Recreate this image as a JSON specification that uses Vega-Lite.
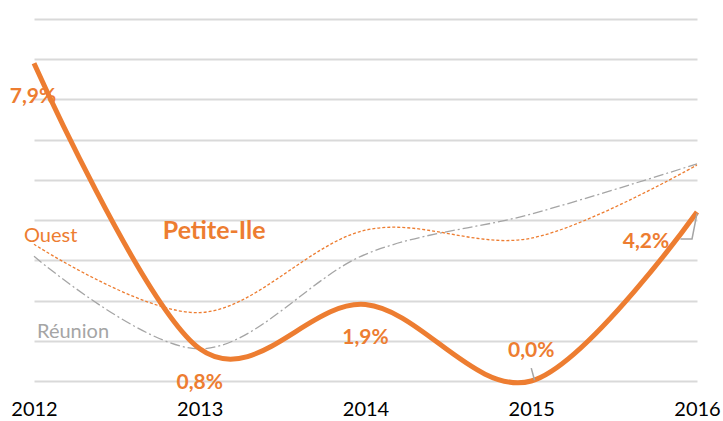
{
  "$schema": "https://vega.github.io/schema/vega-lite/v6.json",
  "width": 663,
  "height": 362,
  "autosize": {"type": "none"},
  "padding": {"left": 34, "top": 19, "right": 26, "bottom": 40},
  "background": "white",
  "config": {"view": {"stroke": null}, "font": "Lato"},
  "datasets": {
    "series": [
      {"series": "Petite-Ile", "year": 2012, "value": 7.9, "label": "7,9%"},
      {"series": "Petite-Ile", "year": 2013, "value": 0.8, "label": "0,8%"},
      {"series": "Petite-Ile", "year": 2014, "value": 1.9, "label": "1,9%"},
      {"series": "Petite-Ile", "year": 2015, "value": 0.0, "label": "0,0%"},
      {"series": "Petite-Ile", "year": 2016, "value": 4.2, "label": "4,2%"},
      {"series": "Ouest", "year": 2012, "value": 3.4, "label": ""},
      {"series": "Ouest", "year": 2013, "value": 1.7, "label": ""},
      {"series": "Ouest", "year": 2014, "value": 3.75, "label": ""},
      {"series": "Ouest", "year": 2015, "value": 3.55, "label": ""},
      {"series": "Ouest", "year": 2016, "value": 5.37, "label": ""},
      {"series": "Réunion", "year": 2012, "value": 3.1, "label": ""},
      {"series": "Réunion", "year": 2013, "value": 0.8, "label": ""},
      {"series": "Réunion", "year": 2014, "value": 3.15, "label": ""},
      {"series": "Réunion", "year": 2015, "value": 4.15, "label": ""},
      {"series": "Réunion", "year": 2016, "value": 5.4, "label": ""}
    ],
    "leaders": [
      {"group": "a", "order": 1, "year": 2015.0, "value": 0.32},
      {"group": "a", "order": 2, "year": 2015.02, "value": 0.02},
      {"group": "b", "order": 1, "year": 2015.9, "value": 3.53},
      {"group": "b", "order": 2, "year": 2015.97, "value": 3.53},
      {"group": "b", "order": 3, "year": 2016.0, "value": 4.17}
    ]
  },
  "data": {"name": "series"},
  "encoding": {
    "x": {
      "field": "year", "type": "quantitative",
      "scale": {"domain": [2012, 2016], "nice": false, "zero": false},
      "axis": {
        "title": null, "values": [2012, 2013, 2014, 2015, 2016], "format": "d",
        "labelFlush": false, "domain": false, "ticks": false, "grid": false,
        "labelFont": "Lato", "labelFontSize": 20, "labelColor": "#000000",
        "labelPadding": 18
      }
    },
    "y": {
      "field": "value", "type": "quantitative",
      "scale": {"domain": [0, 9], "nice": false},
      "axis": {
        "title": null, "values": [0, 1, 2, 3, 4, 5, 6, 7, 8, 9],
        "labels": false, "domain": false, "ticks": false,
        "grid": true, "gridColor": "#d9d9d9", "gridWidth": 2
      }
    }
  },
  "layer": [
    {
      "transform": [{"filter": "datum.series === 'Réunion'"}],
      "mark": {"type": "line", "interpolate": "cardinal", "color": "#a5a5a5", "strokeWidth": 1.3, "strokeDash": [10, 3, 2, 3]}
    },
    {
      "transform": [{"filter": "datum.series === 'Ouest'"}],
      "mark": {"type": "line", "interpolate": "cardinal", "color": "#ED7D31", "strokeWidth": 1.3, "strokeDash": [3, 2]}
    },
    {
      "transform": [{"filter": "datum.series === 'Petite-Ile'"}],
      "mark": {"type": "line", "interpolate": "cardinal", "color": "#ED7D31", "strokeWidth": 5}
    },
    {
      "data": {"name": "leaders"},
      "mark": {"type": "line", "color": "#a5a5a5", "strokeWidth": 1.5},
      "encoding": {
        "detail": {"field": "group"},
        "order": {"field": "order"}
      }
    },
    {
      "transform": [{"filter": "datum.series === 'Petite-Ile' && datum.year === 2012"}],
      "mark": {"type": "text", "color": "#ED7D31", "font": "Lato", "fontWeight": "bold", "fontSize": 21, "baseline": "middle", "align": "center", "dx": -1, "dy": 34},
      "encoding": {"text": {"field": "label"}}
    },
    {
      "transform": [{"filter": "datum.series === 'Petite-Ile' && datum.year === 2013"}],
      "mark": {"type": "text", "color": "#ED7D31", "font": "Lato", "fontWeight": "bold", "fontSize": 21, "baseline": "middle", "align": "center", "dy": 34},
      "encoding": {"text": {"field": "label"}}
    },
    {
      "transform": [{"filter": "datum.series === 'Petite-Ile' && datum.year === 2014"}],
      "mark": {"type": "text", "color": "#ED7D31", "font": "Lato", "fontWeight": "bold", "fontSize": 21, "baseline": "middle", "align": "center", "dy": 33},
      "encoding": {"text": {"field": "label"}}
    },
    {
      "transform": [{"filter": "datum.series === 'Petite-Ile' && datum.year === 2015"}],
      "mark": {"type": "text", "color": "#ED7D31", "font": "Lato", "fontWeight": "bold", "fontSize": 21, "baseline": "middle", "align": "center", "dy": -30},
      "encoding": {"text": {"field": "label"}}
    },
    {
      "transform": [{"filter": "datum.series === 'Petite-Ile' && datum.year === 2016"}],
      "mark": {"type": "text", "color": "#ED7D31", "font": "Lato", "fontWeight": "bold", "fontSize": 21, "baseline": "middle", "align": "center", "dx": -51, "dy": 30},
      "encoding": {"text": {"field": "label"}}
    },
    {
      "transform": [{"filter": "datum.series === 'Petite-Ile' && datum.year === 2013"}],
      "mark": {"type": "text", "color": "#ED7D31", "font": "Lato", "fontWeight": "bold", "fontSize": 25, "baseline": "middle", "align": "left", "dx": -37, "dy": -118},
      "encoding": {"text": {"field": "series"}}
    },
    {
      "transform": [{"filter": "datum.series === 'Ouest' && datum.year === 2012"}],
      "mark": {"type": "text", "color": "#ED7D31", "font": "Lato", "fontSize": 20, "baseline": "middle", "align": "left", "dx": -10, "dy": -8},
      "encoding": {"text": {"field": "series"}}
    },
    {
      "transform": [{"filter": "datum.series === 'Réunion' && datum.year === 2012"}],
      "mark": {"type": "text", "color": "#a5a5a5", "font": "Lato", "fontSize": 20, "baseline": "middle", "align": "left", "dx": 3, "dy": 76},
      "encoding": {"text": {"field": "series"}}
    }
  ]
}
